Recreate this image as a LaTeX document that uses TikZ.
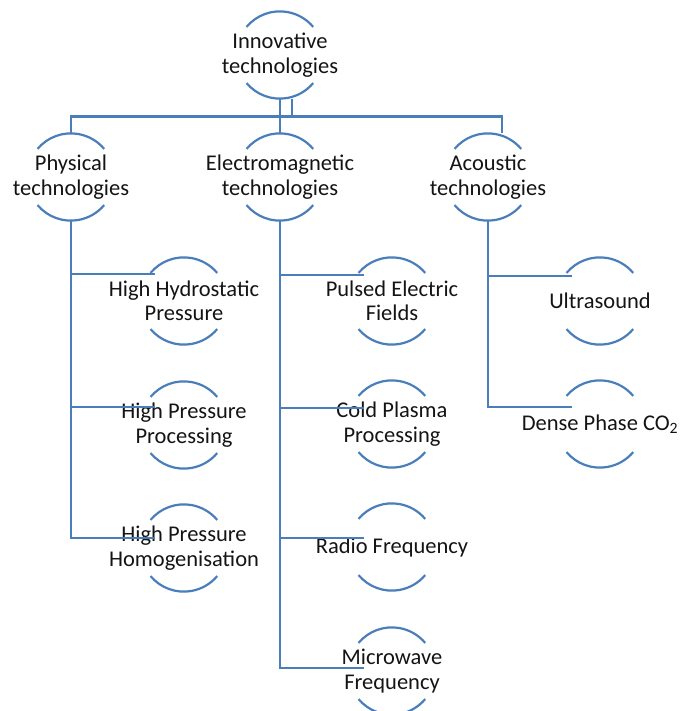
\documentclass[tikz,border=0pt]{standalone}
\usepackage{fontspec}
\setmainfont{Carlito}
\definecolor{lineblue}{RGB}{74,126,187}
\definecolor{txtgray}{RGB}{20,20,20}
\tikzset{
  ring/.style={circle, minimum size=87pt, inner sep=0pt, draw=none},
  txt/.style={align=center, inner sep=0pt, font=\fontsize{22.5}{24.5}\selectfont, text=txtgray},
  conn/.style={draw=lineblue, line width=2.2pt},
  arcline/.style={draw=lineblue, line width=2.2pt}
}
\newcommand{\ringarcs}[1]{%
  \draw[arcline] (#1.140) arc (140:40:43.5pt);
  \draw[arcline] (#1.220) arc (220:320:43.5pt);
}
\begin{document}
\begin{tikzpicture}[x=1pt,y=1pt]
\useasboundingbox (0,0) rectangle (692,-711);
% top-level
\node[ring] (innov) at (280,-55) {};
\node[txt] (innov-t) at (innov) {Innovative\\technologies};
\node[ring] (phys) at (71,-177) {};
\node[txt] (phys-t) at (phys) {Physical\\technologies};
\node[ring] (em) at (280,-177) {};
\node[txt] (em-t) at (em) {Electromagnetic\\technologies};
\node[ring] (ac) at (488,-177) {};
\node[txt] (ac-t) at (ac) {Acoustic\\technologies};
% physical children
\node[ring] (hhp) at (184,-301) {};
\node[txt] (hhp-t) at (hhp) {High Hydrostatic\\Pressure};
\node[ring] (hpp) at (184,-425) {};
\node[txt] (hpp-t) at (hpp) {High Pressure\\Processing};
\node[ring] (hph) at (184,-548) {};
\node[txt] (hph-t) at (hph) {High Pressure\\Homogenisation};
% electromagnetic children
\node[ring] (pef) at (392,-301) {};
\node[txt] (pef-t) at (pef) {Pulsed Electric\\Fields};
\node[ring] (cpp) at (392,-424) {};
\node[txt] (cpp-t) at (cpp) {Cold Plasma\\Processing};
\node[ring] (rf) at (392,-547) {};
\node[txt] (rf-t) at (rf) {Radio Frequency};
\node[ring] (mw) at (392,-671) {};
\node[txt] (mw-t) at (mw) {Microwave\\Frequency};
% acoustic children
\node[ring] (us) at (600,-301) {};
\node[txt] (us-t) at (us) {Ultrasound};
\node[ring] (dp) at (600,-424) {};
\node[txt] (dp-t) at (dp) {Dense Phase CO\textsubscript{2}};
% arcs
\foreach \n in {innov,phys,em,ac,hhp,hpp,hph,pef,cpp,rf,mw,us,dp}{\ringarcs{\n}}
% attachment points
\coordinate (bus) at (292,-116.5);
\coordinate (acin) at ([xshift=14pt]ac.north);
\coordinate (hhpin) at (155,-274);
\coordinate (hppin) at (155,-407);
\coordinate (hphin) at (155,-538);
\coordinate (pefin) at (364,-275);
\coordinate (cppin) at (364,-408);
\coordinate (rfin) at (364,-538);
\coordinate (mwin) at (364,-668);
\coordinate (usin) at (572,-276);
\coordinate (dpin) at (572,-407);
% connectors
\draw[conn] (innov.south) -- (em.north);
\draw[conn] ([xshift=12pt]innov.south) -- (bus);
\draw[conn] (phys.north) |- (bus) -| (acin);
\draw[conn] (phys.south) |- (hhpin);
\draw[conn] (phys.south) |- (hppin);
\draw[conn] (phys.south) |- (hphin);
\draw[conn] (em.south) |- (pefin);
\draw[conn] (em.south) |- (cppin);
\draw[conn] (em.south) |- (rfin);
\draw[conn] (em.south) |- (mwin);
\draw[conn] (ac.south) |- (usin);
\draw[conn] (ac.south) |- (dpin);
\end{tikzpicture}
\end{document}
